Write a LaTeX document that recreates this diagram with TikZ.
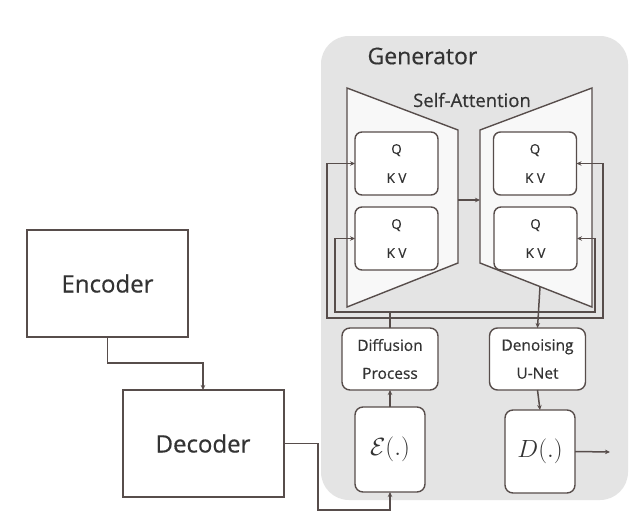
\documentclass[tikz,border=0pt]{standalone}
\usepackage{fontspec}
\setmainfont{Open Sans}[FakeBold=0.5]
\usetikzlibrary{arrows.meta}
\definecolor{ln}{HTML}{574D4B}
\definecolor{bg}{HTML}{E4E4E4}
\definecolor{trap}{HTML}{F8F8F8}
\definecolor{tx}{HTML}{333333}
\begin{document}
\begin{tikzpicture}[x=1pt,y=-1pt,
 every node/.style={text=tx},
 bigbox/.style={draw=ln, line width=2pt, fill=white, minimum width=161pt, minimum height=107pt, outer sep=0pt, font=\fontsize{24}{28}\selectfont},
 qkv/.style={draw=ln, line width=1.4pt, rounded corners=7pt, fill=white, minimum width=83pt, minimum height=63pt, outer sep=0pt, inner sep=0pt, align=center, font=\fontsize{13.5}{29}\selectfont},
 proc/.style={draw=ln, line width=1.4pt, rounded corners=8pt, fill=white, minimum width=96pt, minimum height=62pt, outer sep=0pt, inner sep=0pt, align=center, font=\fontsize{15.5}{28}\selectfont},
 fn/.style={draw=ln, line width=1.4pt, rounded corners=8pt, fill=white, minimum width=70pt, minimum height=85pt, outer sep=0pt, inner sep=0pt, font=\fontsize{24}{26}\selectfont},
 trapz/.style={draw=ln, line width=1.4pt, fill=trap},
 conn/.style={draw=ln, line width=1.5pt},
 arr/.style={conn, -{Stealth[length=5pt,width=4.5pt]}}
]
\useasboundingbox (0,0) rectangle (630,530);
\fill[white] (0,0) rectangle (630,530);
\fill[bg, rounded corners=28pt] (321,36) rectangle (628,500);
\node[anchor=west, font=\fontsize{23}{26}\selectfont] (gen) at (364,56) {Generator};

% trapezoids
\draw[trapz] (347,88) -- (458,130) -- (458,263) -- (347,307) -- cycle;
\draw[trapz] (592,88) -- (480,130) -- (480,263) -- (592,307) -- cycle;
\coordinate (encout) at (458,200);
\coordinate (decin) at (480,200);
\coordinate (decout) at (540,286.6);
\node[font=\fontsize{18.5}{20}\selectfont] (sa) at (472,100) {Self-Attention};

% QKV boxes
\node[qkv] (q1) at (396.5,163.5) {Q\\K V};
\node[qkv] (q2) at (396.5,238.5) {Q\\K V};
\node[qkv] (q3) at (535,163.5) {Q\\K V};
\node[qkv] (q4) at (535.5,238.5) {Q\\K V};

% process boxes
\node[proc] (dp) at (390,359) {Diffusion\\Process};
\node[proc] (dn) at (537.5,359) {Denoising\\U-Net};
\node[fn] (eps) at (390,449.5) {$\mathcal{E}(.)$};
\node[fn, minimum height=83pt] (dd) at (540,451.5) {$D(.)$};
\coordinate (out) at (610,452);

% encoder/decoder
\node[bigbox] (enc) at (107.5,283.5) {Encoder};
\node[bigbox] (dec) at (203,443.5) {Decoder};

% connectors
\draw[arr] (encout) -- (decin);
\draw[arr] (dp.north) |- (327,318) |- (q1.west);
\draw[arr] (dp.north) |- (335,312) |- (q2.west);
\draw[arr] (dp.north) |- (603,318) |- (q3.east);
\draw[arr] (dp.north) |- (595,312) |- (q4.east);
\draw[arr] (decout) -- (dn.north);
\draw[arr] (eps.north) -- (dp.south);
\draw[arr] (dn.south) -- (dd.north);
\draw[arr] (dd.east) -- (out);
\draw[arr] (enc.south) -- ++(0,26) -| (dec.north);
\draw[arr] (dec.east) -| (318,510) -| (eps.south);
\end{tikzpicture}
\end{document}
